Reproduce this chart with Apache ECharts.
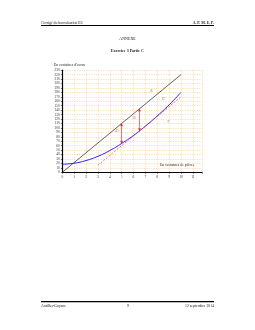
<!DOCTYPE html>
<html><head><meta charset="utf-8">
<script src="https://cdn.jsdelivr.net/npm/echarts@6/dist/echarts.min.js"></script>
<style>html,body{margin:0;padding:0;background:#fff}#c{width:255px;height:330px}</style>
</head><body><div id="c"></div>
<script>
// ---- data ----
const xMax = 11.75;
const yMax = 230;
const costX = [0, 1, 2, 3, 4, 5, 6, 7, 8, 9, 10];
const costY = [18, 20.5, 26.5, 36, 49, 65, 83, 104, 127, 152, 180];
const revenueX = [0, 10];
const revenueY = [0, 220];
const parallelX = [3, 10];
const parallelY = [16, 170];
const arrowX = [5, 6.5];
const arrowTop = [110, 143];
const arrowBottom = [65, 93];
const arrowText = ['45', '50'];
const crossX = 0.9;
const crossText = '0,9';
const redTick = 5;
const curveLabels = [
  {x: 7.5, y: 184, text: 'R', color: '#555'},
  {x: 8.5, y: 166, text: 'C', color: '#2222ee'},
  {x: 8.9, y: 114, text: 'T', color: '#ee3333'}
];
const arrowLabelX = [4.6, 6.05];
const arrowLabelY = [92, 121];

const font = 'Liberation Serif';
const grid = {left: 62.3, top: 70.2, width: xMax * 11.87, height: 102.1};
const gridLine = {show: true, lineStyle: {color: '#fbc98a', width: 0.6, type: [1.2, 1.2]}};

const chart = echarts.init(document.getElementById('c'), null, {renderer: 'canvas'});
const zip = (a, b) => a.map((v, i) => [v, b[i]]);

const option = {
  animation: false,
  backgroundColor: '#fff',
  textStyle: {fontFamily: font},
  grid: grid,
  xAxis: {
    type: 'value', min: 0, max: xMax, interval: 1,
    axisLine: {lineStyle: {color: '#000', width: 1.1}},
    axisTick: {show: true, length: 1.5, lineStyle: {color: '#000', width: 0.5}},
    axisLabel: {
      fontSize: 3.6, color: '#333', margin: 3, fontFamily: font, showMaxLabel: true,
      formatter: v => Number.isInteger(v) ? (v === redTick ? '{r|' + v + '}' : String(v)) : '',
      rich: {r: {color: '#ee3333', fontSize: 3.6, fontFamily: font}}
    },
    splitLine: gridLine
  },
  yAxis: {
    type: 'value', min: 0, max: yMax, interval: 10,
    axisLine: {show: true, lineStyle: {color: '#000', width: 1.2}},
    axisTick: {show: true, length: 1.5, lineStyle: {color: '#000', width: 0.5}},
    axisLabel: {fontSize: 3.6, color: '#333', margin: 2.5, fontFamily: font},
    splitLine: gridLine
  },
  series: [
    {type: 'line', data: zip(revenueX, revenueY), symbol: 'none',
     lineStyle: {color: '#222', width: 0.7}},
    {type: 'line', data: zip(costX, costY), symbol: 'none', smooth: true,
     lineStyle: {color: '#2020ff', width: 1}},
    {type: 'line', data: zip(parallelX, parallelY), symbol: 'none',
     lineStyle: {color: '#ff3333', width: 0.7, type: [2, 1.5]}},
    {type: 'line', data: [], symbol: 'none',
     markLine: {
       silent: true, symbol: ['arrow', 'arrow'], symbolSize: [2.5, 3],
       label: {show: false},
       lineStyle: {color: '#ee2222', width: 0.6, type: 'solid'},
       data: arrowX.map((x, i) => [{coord: [x, arrowTop[i]]}, {coord: [x, arrowBottom[i]]}])
         .concat([[{coord: [crossX, 0], symbol: 'none'}, {coord: [crossX, -4], symbol: 'none'}]])
     }},
    {type: 'scatter', symbolSize: 0,
     data: curveLabels.map(l => ({value: [l.x, l.y],
       label: {show: true, position: 'inside', formatter: l.text, color: l.color, fontSize: 3.8, fontStyle: 'italic', fontFamily: font}}))
       .concat(arrowX.map((x, i) => ({value: [arrowLabelX[i], arrowLabelY[i]],
         label: {show: true, position: 'inside', formatter: arrowText[i], color: '#ee3333', fontSize: 3.4, fontFamily: font}})))
       .concat([{value: [crossX, -9], label: {show: true, position: 'inside', formatter: crossText, color: '#ee3333', fontSize: 3.4, fontFamily: font}}])
    }
  ],
  graphic: [
    {type: 'text', left: 41, top: 21, style: {text: 'Corrigé du baccalauréat ES', font: '3.8px "Liberation Serif"', fill: '#222'}},
    {type: 'text', right: 41, top: 21, style: {text: 'A. P. M. E. P.', font: 'bold 3.8px "Liberation Serif"', fill: '#222'}},
    {type: 'rect', shape: {x: 41, y: 25, width: 173, height: 1}, style: {fill: '#000'}},
    {type: 'text', left: 'center', top: 36.5, style: {text: 'ANNEXE', font: '4px "Liberation Serif"', fill: '#222'}},
    {type: 'text', left: 'center', top: 49, style: {text: 'Exercice 3 Partie C', font: 'bold 4px "Liberation Serif"', fill: '#222'}},
    {type: 'text', left: 54, top: 63.3, style: {text: "En centaines d'euros", font: '3.8px "Liberation Serif"', fill: '#222'}},
    {type: 'text', left: 160, top: 163, style: {text: 'En centaines de pièces', font: '3.8px "Liberation Serif"', fill: '#222'}},
    {type: 'rect', shape: {x: 41, y: 301, width: 173, height: 1.3}, style: {fill: '#000'}},
    {type: 'text', left: 41, top: 304, style: {text: 'Antilles-Guyane', font: '3.8px "Liberation Serif"', fill: '#222'}},
    {type: 'text', left: 127, top: 304, style: {text: '9', font: '3.8px "Liberation Serif"', fill: '#222'}},
    {type: 'text', right: 41, top: 304, style: {text: '12 septembre 2014', font: '3.8px "Liberation Serif"', fill: '#222'}}
  ]
};
chart.setOption(option);
</script></body></html>
